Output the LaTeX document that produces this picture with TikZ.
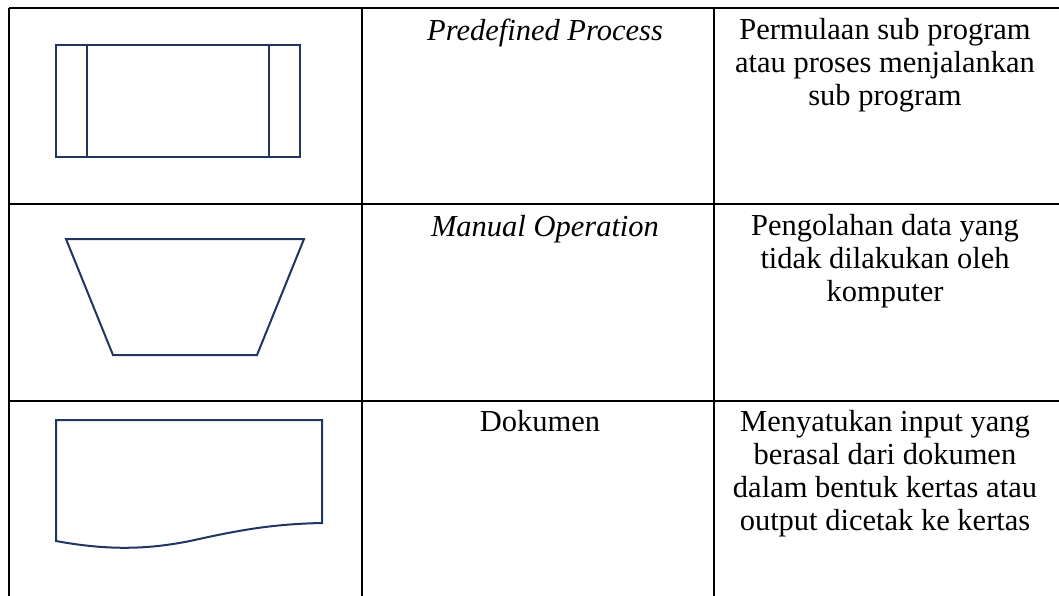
\documentclass[tikz,border=0pt]{standalone}
\usepackage{fontspec}
\setmainfont{Liberation Serif}
\definecolor{shapeblue}{RGB}{31,54,98}

\begin{document}
\begin{tikzpicture}[x=1pt,y=1pt]
      \tikzstyle{every node}+=[inner sep=0pt]
      \tikzstyle{tabline}=[black, line width=2.2pt]
      \tikzstyle{shapeline}=[shapeblue, line width=2pt, line join=miter]
      \tikzstyle{symname}=[font=\fontsize{30.5}{33}\selectfont, anchor=base]
      \tikzstyle{symdesc}=[font=\fontsize{30.5}{33}\selectfont, anchor=north, align=center]
      \useasboundingbox (0,0) rectangle (1059,-595);
      \draw [tabline] (9,-8) -- (1070,-8);
      \draw [tabline] (9,-204) -- (1070,-204);
      \draw [tabline] (9,-401) -- (1070,-401);
      \draw [tabline] (9,-8) -- (9,-600);
      \draw [tabline] (362,-8) -- (362,-600);
      \draw [tabline] (714,-8) -- (714,-600);
      \draw [shapeline] (56,-45) rectangle (300,-157);
      \draw [shapeline] (87,-45) -- (87,-157);
      \draw [shapeline] (269,-45) -- (269,-157);
      \draw (545,-40) node [symname] (pp) {\itshape Predefined Process};
      \draw (885,-18) node [symdesc] (ppdesc) {Permulaan sub program\\atau proses menjalankan\\sub program};
      \draw [shapeline] (66,-239) -- (304,-239) -- (257,-355) -- (113,-355) -- cycle;
      \draw (545,-236) node [symname] (mo) {\itshape Manual Operation};
      \draw (885,-214) node [symdesc] (modesc) {Pengolahan data yang\\tidak dilakukan oleh\\komputer};
      \draw [shapeline] (56,-541) -- (56,-420) -- (322,-420) -- (322,-523)
            .. controls (270,-524) and (235,-531) .. (190,-541)
            .. controls (150,-549) and (110,-551) .. (56,-541) -- cycle;
      \draw (540,-431) node [symname] (dok) {Dokumen};
      \draw (885,-410) node [symdesc] (dokdesc) {Menyatukan input yang\\berasal dari dokumen\\dalam bentuk kertas atau\\output dicetak ke kertas};
\end{tikzpicture}
\end{document}
